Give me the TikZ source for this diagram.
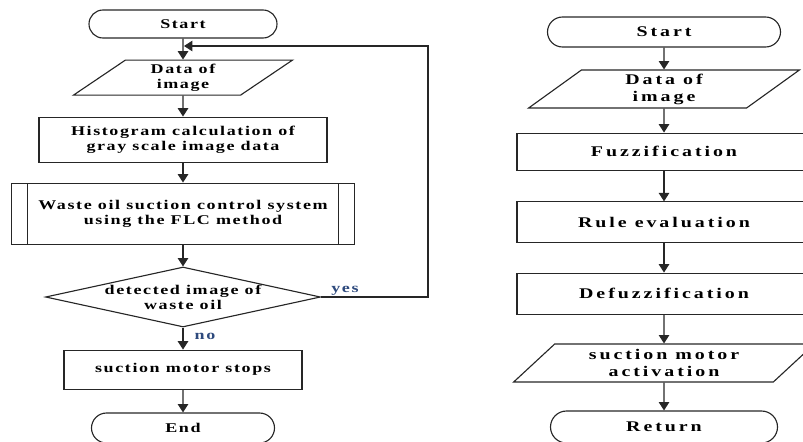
\documentclass[tikz,border=0pt]{standalone}
\usepackage{fontspec}
\setmainfont{Liberation Serif}
\newfontfamily\flowfont[LetterSpace=12,FakeStretch=1.35]{Liberation Serif}
\newfontfamily\subfont[LetterSpace=20,FakeStretch=1.35]{Liberation Serif}
\usetikzlibrary{shapes.geometric,shapes.misc,arrows.meta}
\definecolor{lineblack}{HTML}{262626}
\definecolor{labelblue}{HTML}{2E4A7D}

\begin{document}
\begin{tikzpicture}[
	box/.style={draw=lineblack, line width=0.8pt, align=center, inner sep=0pt,
		font=\flowfont\bfseries\fontsize{9.5}{10.5}\selectfont},
	bigbox/.style={box, font=\subfont\bfseries\fontsize{10.5}{12}\selectfont},
	term/.style={rounded rectangle},
	io/.style={trapezium, trapezium stretches=true,
		trapezium left angle=#1, trapezium right angle={180-#1}},
	subproc/.style={rectangle, path picture={
		\draw[lineblack, line width=0.8pt]
			([xshift=0.4cm]path picture bounding box.north west) -- ([xshift=0.4cm]path picture bounding box.south west)
			([xshift=-0.4cm]path picture bounding box.north east) -- ([xshift=-0.4cm]path picture bounding box.south east);}},
	arr/.style={draw=lineblack, line width=0.8pt, -{Triangle[length=6pt,width=7.5pt]}},
	answer/.style={text=labelblue, font=\flowfont\bfseries\fontsize{9.5}{10.5}\selectfont}
	]
	\useasboundingbox (0,0) rectangle (20.075,-11.025);

	% main loop
	\node[box,term, minimum width=4.7cm, minimum height=0.7cm]    (start) at (4.575,-0.6)   {Start};
	\node[box,io=43, minimum width=5.5cm, minimum height=0.875cm] (data)  at (4.575,-1.94)  {Data of\\image};
	\node[box, minimum width=7.2cm, minimum height=1.125cm]       (hist)  at (4.575,-3.49)  {Histogram calculation of\\gray scale image data};
	\node[box,subproc, minimum width=8.575cm, minimum height=1.525cm] (flc) at (4.575,-5.34) {Waste oil suction control system\\using the FLC method};
	\node[box,diamond, aspect=4.6, minimum width=6.875cm, minimum height=1.5cm] (detect) at (4.575,-7.425) {detected image of\\waste oil};
	\node[box, minimum width=5.95cm, minimum height=0.975cm]      (stop)  at (4.575,-9.24)  {suction motor stops};
	\node[box,term, minimum width=4.575cm, minimum height=0.75cm] (end)   at (4.575,-10.7)  {End};

	\coordinate (join) at (4.6,-1.15);
	\coordinate (turn) at (10.7,-1.15);

	\draw[arr] (start) -- (data);
	\draw[arr] (data) -- (hist);
	\draw[arr] (hist) -- (flc);
	\draw[arr] (flc) -- (detect);
	\draw[arr] (detect) -- (stop);
	\draw[arr] (stop) -- (end);
	\draw[arr] (detect.east) -| (turn) -- (join);

	\node[answer] (yes) at (8.625,-7.275) {yes};
	\node[answer] (no)  at (5.125,-8.4)   {no};

	% FLC subroutine
	\node[bigbox,term, minimum width=5.825cm, minimum height=0.75cm] (fstart) at (16.6,-0.8)  {Start};
	\node[bigbox,io=51, minimum width=6.825cm, minimum height=0.95cm] (fdata)  at (16.6,-2.225) {Data of\\image};
	\node[bigbox, minimum width=7.35cm, minimum height=0.925cm]       (fuzz)   at (16.6,-3.79)  {Fuzzification};
	\node[bigbox, minimum width=7.35cm, minimum height=1.025cm]       (rule)   at (16.6,-5.56)  {Rule evaluation};
	\node[bigbox, minimum width=7.35cm, minimum height=1.025cm]       (defuzz) at (16.6,-7.34)  {Defuzzification};
	\node[bigbox,io=44, minimum width=7.525cm, minimum height=0.95cm] (act)    at (16.6,-9.075) {suction motor\\activation};
	\node[bigbox,term, minimum width=5.675cm, minimum height=0.8cm]   (ret)    at (16.6,-10.675) {Return};

	\draw[arr] (fstart) -- (fdata);
	\draw[arr] (fdata) -- (fuzz);
	\draw[arr] (fuzz) -- (rule);
	\draw[arr] (rule) -- (defuzz);
	\draw[arr] (defuzz) -- (act);
	\draw[arr] (act) -- (ret);

\end{tikzpicture}
\end{document}
